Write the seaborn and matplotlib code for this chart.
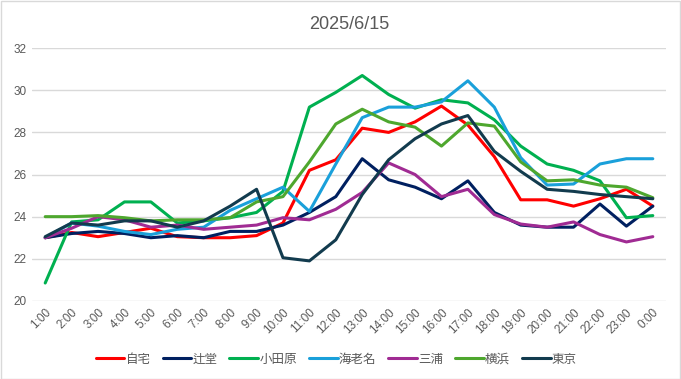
import numpy as np
import pandas as pd
import seaborn as sns
from matplotlib import pyplot as plt
from matplotlib.patches import Rectangle

hours = ["1:00", "2:00", "3:00", "4:00", "5:00", "6:00", "7:00", "8:00",
         "9:00", "10:00", "11:00", "12:00", "13:00", "14:00", "15:00", "16:00",
         "17:00", "18:00", "19:00", "20:00", "21:00", "22:00", "23:00", "0:00"]

jitaku = [23.0, 23.25, 23.05, 23.25, 23.45, 23.05, 23.0, 23.0, 23.1, 23.7, 26.2, 26.7,
          28.2, 28.0, 28.5, 29.25, 28.35, 26.85, 24.8, 24.8, 24.5, 24.85, 25.3, 24.5]
tsujido = [23.0, 23.2, 23.3, 23.2, 23.0, 23.1, 23.0, 23.3, 23.3, 23.6, 24.2, 24.95,
           26.75, 25.75, 25.4, 24.85, 25.7, 24.2, 23.6, 23.5, 23.5, 24.6, 23.55, 24.5]
odawara = [20.85, 23.75, 23.85, 24.7, 24.7, 23.7, 23.8, 23.95, 24.2, 25.2, 29.2, 29.9,
           30.7, 29.8, 29.15, 29.55, 29.4, 28.6, 27.35, 26.5, 26.2, 25.7, 23.95, 24.05]
ebina = [23.0, 23.7, 23.55, 23.3, 23.15, 23.4, 23.5, 24.3, 24.85, 25.4, 24.25, 26.5,
         28.7, 29.2, 29.2, 29.45, 30.45, 29.2, 26.8, 25.5, 25.55, 26.5, 26.75, 26.75]
miura = [23.0, 23.45, 24.0, 23.85, 23.5, 23.6, 23.4, 23.5, 23.6, 23.95, 23.85, 24.35,
         25.15, 26.55, 26.0, 24.95, 25.3, 24.1, 23.65, 23.5, 23.75, 23.15, 22.8, 23.05]
yokohama = [24.0, 24.0, 24.05, 23.95, 23.8, 23.85, 23.85, 23.95, 24.7, 24.95, 26.6, 28.4,
            29.1, 28.5, 28.25, 27.35, 28.45, 28.3, 26.6, 25.7, 25.75, 25.5, 25.4, 24.9]
tokyo = [23.05, 23.7, 23.6, 23.8, 23.8, 23.5, 23.8, 24.5, 25.3, 22.05, 21.9, 22.9,
         25.05, 26.7, 27.7, 28.4, 28.8, 27.1, 26.15, 25.3, 25.2, 25.05, 24.95, 24.85]

names = ["自宅", "辻堂", "小田原", "海老名", "三浦", "横浜", "東京"]
series = [jitaku, tsujido, odawara, ebina, miura, yokohama, tokyo]
colors = ["#FF0000", "#002060", "#00B050", "#1AA0DA", "#A02B93", "#4EA72E", "#123B4E"]

df = pd.DataFrame({
    "time": hours * len(names),
    "place": np.repeat(names, len(hours)),
    "temp": np.concatenate(series),
})

sns.set_style("white")
plt.rcParams["font.family"] = ["Liberation Sans", "Noto Sans CJK JP", "DejaVu Sans"]

fig = plt.figure(figsize=(6.81, 3.79), dpi=100)
ax = fig.add_axes([0.047, 0.206, 0.931, 0.667])

sns.lineplot(data=df, x="time", y="temp", hue="place", hue_order=names,
             palette=colors, linewidth=2.2, sort=False, ax=ax)

ax.set_xlim(-0.5, len(hours) - 0.5)
ax.set_ylim(20, 32)
ax.set_yticks(range(20, 33, 2))
ax.set_xlabel("")
ax.set_ylabel("")
ax.grid(axis="y", color="#D9D9D9", linewidth=1)
ax.set_axisbelow(True)
for s in ax.spines.values():
    s.set_visible(False)
ax.tick_params(axis="both", length=0, labelsize=8.5, colors="#595959", pad=4)
plt.setp(ax.get_xticklabels(), rotation=45, ha="right", rotation_mode="anchor")

ax.set_title("2025/6/15", fontsize=13, color="#595959", pad=14)

sns.move_legend(ax, "lower center", bbox_to_anchor=(0.48, -0.30), ncol=7,
                frameon=False, title=None, fontsize=9, handlelength=2.3,
                handletextpad=0.1, columnspacing=0.95)
for t in ax.get_legend().get_texts():
    t.set_color("#595959")
for h in ax.get_legend().get_lines():
    h.set_linewidth(2.2)

fig.patches.append(Rectangle((0.001, 0.001), 0.997, 0.997, transform=fig.transFigure,
                             fill=False, edgecolor="#D9D9D9", linewidth=1))

fig.savefig("out.png", dpi=100)
